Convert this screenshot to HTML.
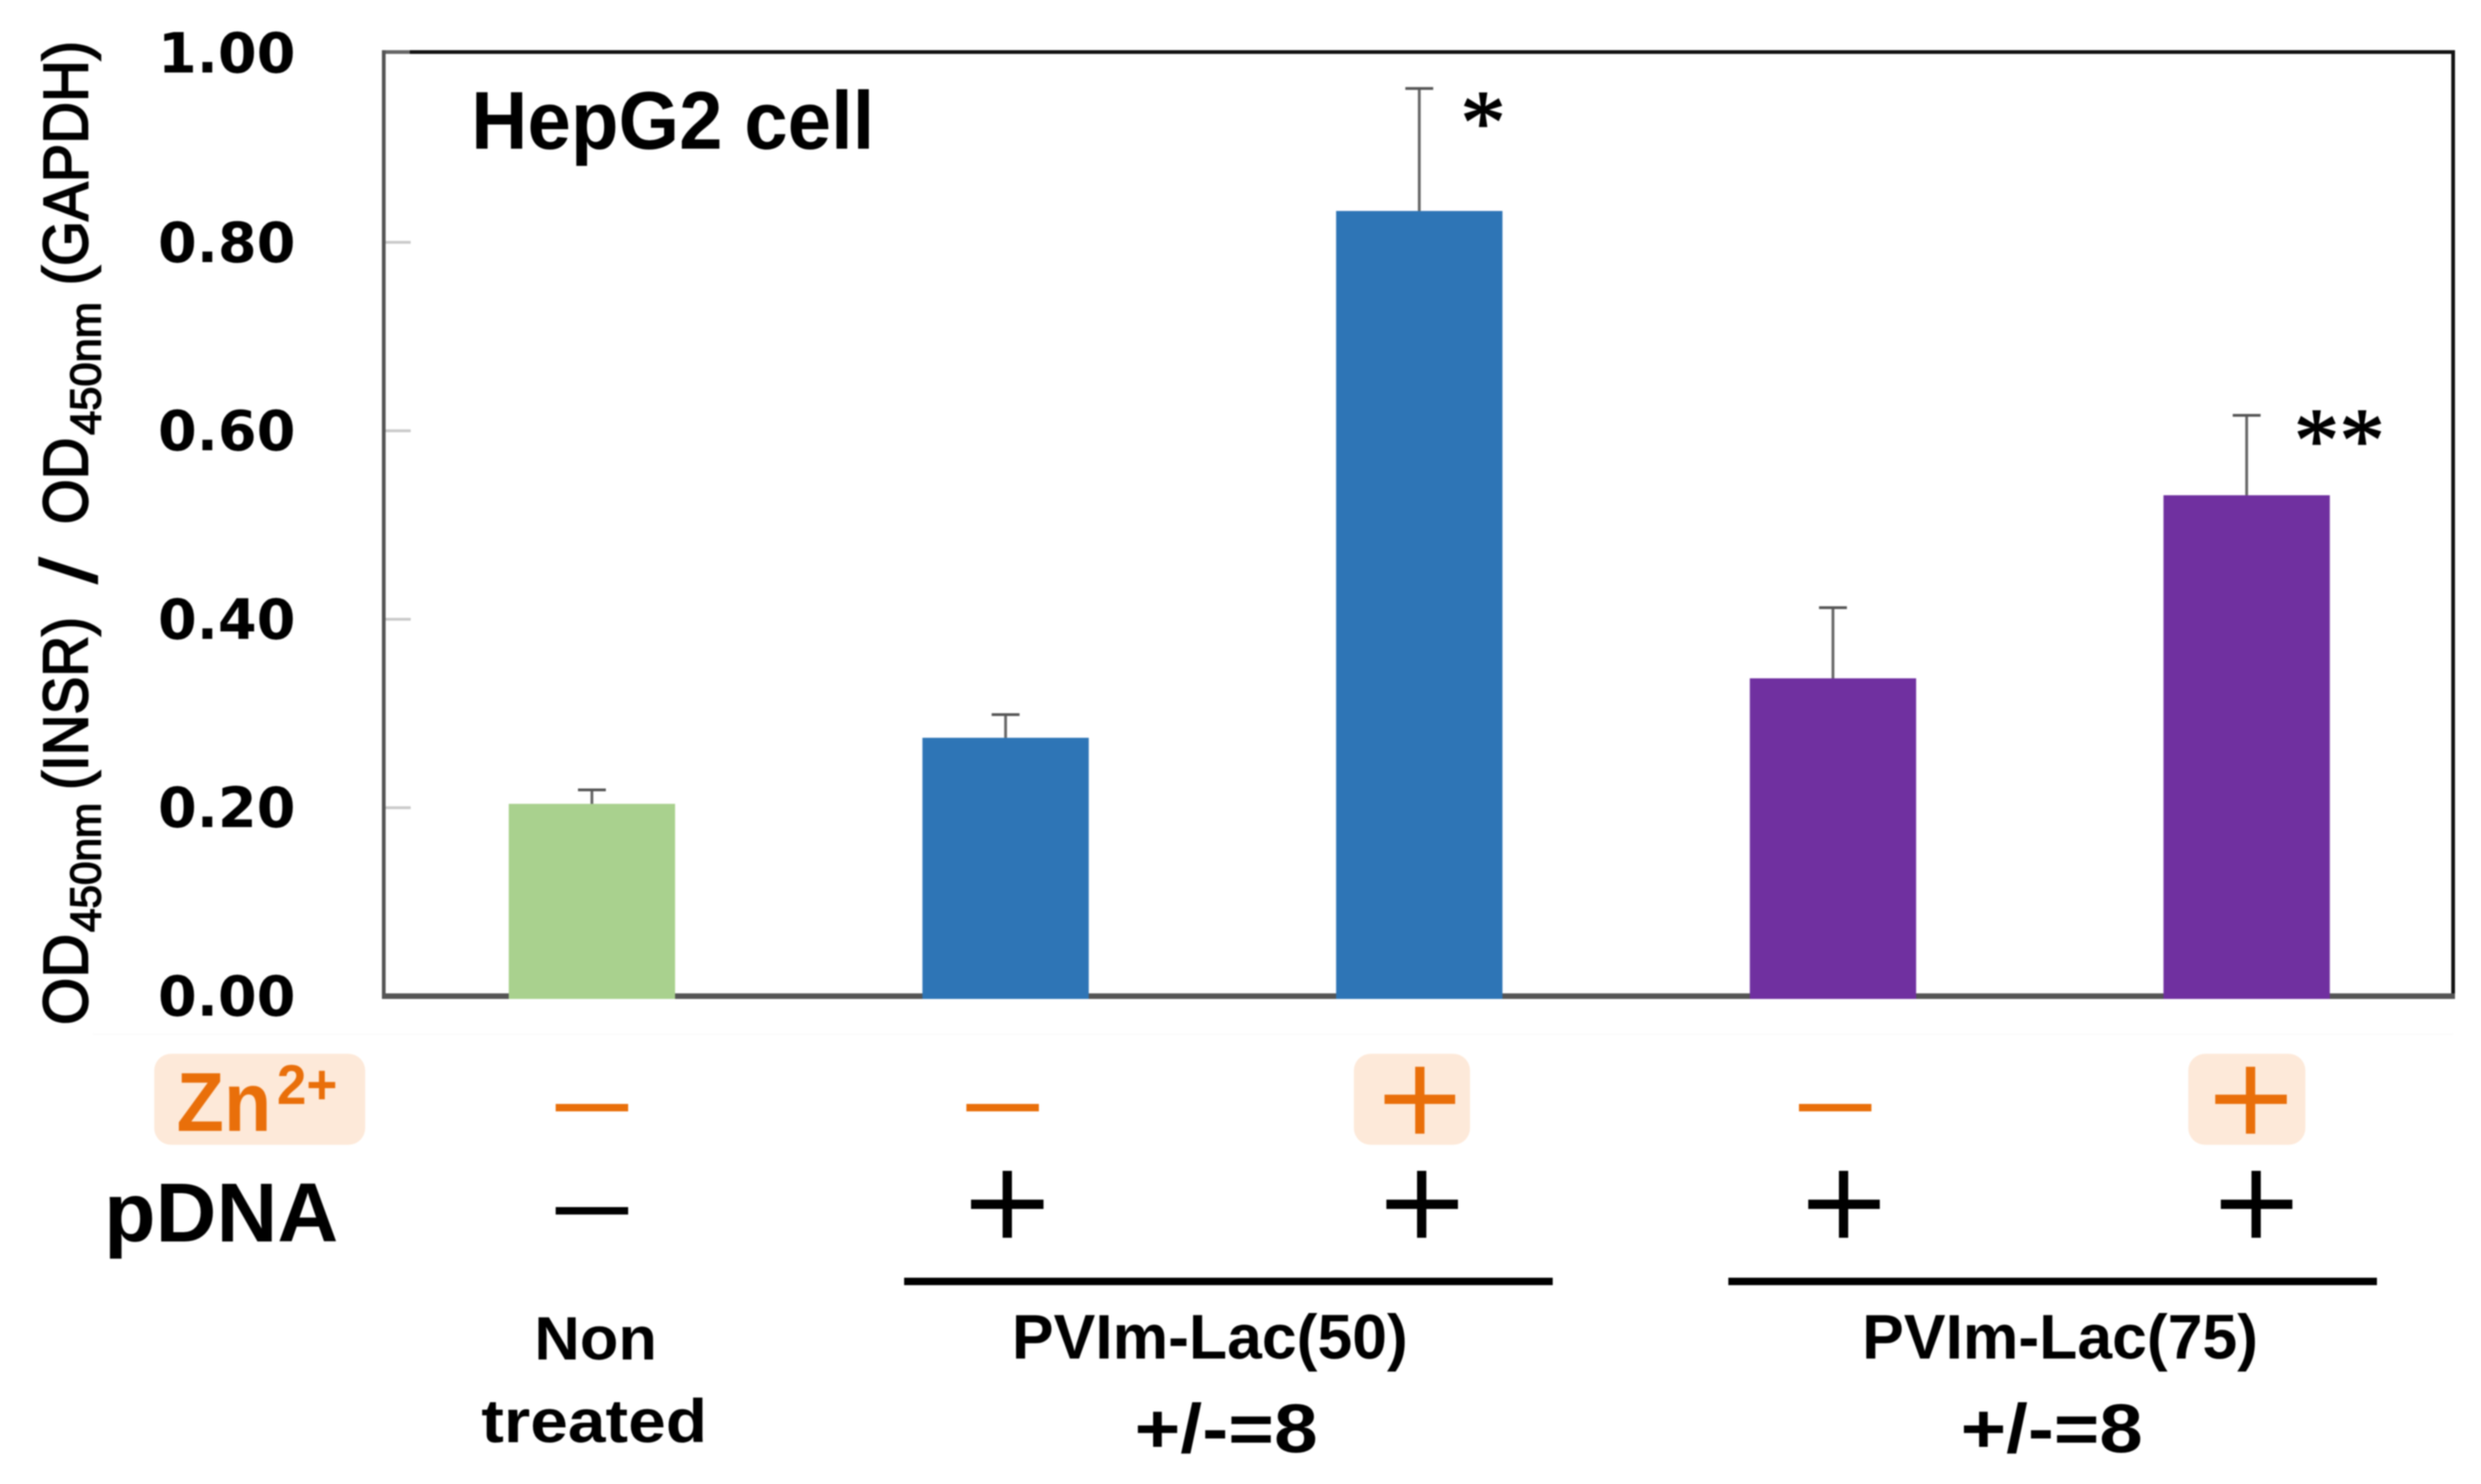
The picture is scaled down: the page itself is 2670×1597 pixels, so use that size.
<!DOCTYPE html>
<html lang="en">
<head>
<meta charset="utf-8">
<title>HepG2 cell INSR bar chart</title>
<style>
html,body{margin:0;padding:0;background:#fff;width:2670px;height:1597px;overflow:hidden}
svg{display:block;filter:blur(0.7px)}
text{font-family:"Liberation Sans",sans-serif;font-weight:700;fill:#000}
.dv{font-family:"DejaVu Sans",sans-serif}
.org{fill:#e96f0a}
.star{font-family:"Liberation Serif",serif;font-weight:400;stroke:#000;stroke-width:1.5}
.yt{font-weight:400;stroke:#000;stroke-width:2}
.ys{font-weight:400;stroke:#000;stroke-width:1.5}
</style>
</head>
<body>
<svg id="chart" xmlns="http://www.w3.org/2000/svg" width="2670" height="1597" viewBox="0 0 2670 1597">
  <rect x="0" y="0" width="2670" height="1597" fill="#fff"/>
  <rect x="100" y="1112" width="2540" height="2" fill="#fafafa"/>
  <g id="plot"></g>

  <text x="507" y="160" font-size="88" textLength="434" lengthAdjust="spacingAndGlyphs">HepG2 cell</text>

  <g transform="translate(94,1103) rotate(-90)">
    <text class="yt" x="0" y="0" font-size="68" textLength="98" lengthAdjust="spacingAndGlyphs">OD</text>
    <text class="ys" x="100" y="14" font-size="46" textLength="139" lengthAdjust="spacingAndGlyphs">450nm</text>
    <text class="yt" x="253" y="0" font-size="68" textLength="186" lengthAdjust="spacingAndGlyphs">(INSR)</text>
    <text class="ys" x="475" y="10" font-size="85" textLength="28" lengthAdjust="spacingAndGlyphs">/</text>
    <text class="yt" x="539" y="0" font-size="68" textLength="93" lengthAdjust="spacingAndGlyphs">OD</text>
    <text class="ys" x="635" y="14" font-size="46" textLength="143" lengthAdjust="spacingAndGlyphs">450nm</text>
    <text class="yt" x="796" y="0" font-size="68" textLength="263" lengthAdjust="spacingAndGlyphs">(GAPDH)</text>
  </g>

  <g>
    <text class="star" x="1596" y="164" font-size="97" text-anchor="middle">*</text>
    <text class="star" x="2493" y="506" font-size="97" text-anchor="middle">*</text>
    <text class="star" x="2542" y="506" font-size="97" text-anchor="middle">*</text>
  </g>

  <g>
    <rect x="166" y="1134" width="227" height="98" rx="18" fill="#fde9d9"/>
    <text class="org" x="190" y="1217" font-size="90" textLength="102" lengthAdjust="spacingAndGlyphs">Zn</text>
    <text class="org" x="298" y="1188" font-size="60" textLength="65" lengthAdjust="spacingAndGlyphs">2+</text>
    <rect x="598" y="1188" width="78" height="8" fill="#e96f0a"/>
    <rect x="1040" y="1188" width="78" height="8" fill="#e96f0a"/>
    <rect x="1457" y="1134" width="125" height="98" rx="18" fill="#fde9d9"/>
    <rect x="1490" y="1178" width="76" height="10" fill="#e96f0a"/>
    <rect x="1523" y="1148" width="10" height="72" fill="#e96f0a"/>
    <rect x="1936" y="1188" width="78" height="8" fill="#e96f0a"/>
    <rect x="2355" y="1134" width="126" height="98" rx="18" fill="#fde9d9"/>
    <rect x="2384" y="1178" width="77" height="10" fill="#e96f0a"/>
    <rect x="2417" y="1148" width="10" height="72" fill="#e96f0a"/>
  </g>

  <g>
    <text x="112" y="1336" font-size="90" textLength="252" lengthAdjust="spacingAndGlyphs">pDNA</text>
    <rect x="598" y="1299" width="78" height="8"/>
    <rect x="1045" y="1291" width="78" height="10"/>
    <rect x="1079" y="1260" width="10" height="72"/>
    <rect x="1492" y="1291" width="77" height="10"/>
    <rect x="1525" y="1260" width="10" height="72"/>
    <rect x="1946" y="1291" width="77" height="10"/>
    <rect x="1979" y="1260" width="10" height="72"/>
    <rect x="2390" y="1291" width="77" height="10"/>
    <rect x="2423" y="1260" width="10" height="72"/>
  </g>

  <rect x="973" y="1375" width="698" height="8"/>
  <rect x="1860" y="1375" width="698" height="8"/>

  <text x="575" y="1463" font-size="66" textLength="132" lengthAdjust="spacingAndGlyphs">Non</text>
  <text x="518" y="1552" font-size="66" textLength="243" lengthAdjust="spacingAndGlyphs">treated</text>
  <text x="1089" y="1462" font-size="68" textLength="426" lengthAdjust="spacingAndGlyphs">PVIm-Lac(50)</text>
  <text x="1221" y="1563" font-size="74" textLength="197" lengthAdjust="spacingAndGlyphs">+/-=8</text>
  <text x="2004" y="1462" font-size="68" textLength="426" lengthAdjust="spacingAndGlyphs">PVIm-Lac(75)</text>
  <text x="2110" y="1563" font-size="74" textLength="196" lengthAdjust="spacingAndGlyphs">+/-=8</text>
</svg>
<script>
const categories = ['non-treated', 'lac50-no-zinc', 'lac50-zinc', 'lac75-no-zinc', 'lac75-zinc'];
const barValues = [0.2041, 0.2742, 0.8333, 0.3373, 0.5316];
const barErrors = [0.0148, 0.0246, 0.130, 0.075, 0.0848];
const barColors = ['#a9d18e', '#2e75b6', '#2e75b6', '#7030a0', '#7030a0'];
const tickValues = [0, 0.2, 0.4, 0.6, 0.8, 1];
const tickLabels = ['0.00', '0.20', '0.40', '0.60', '0.80', '1.00'];

const NS = 'http://www.w3.org/2000/svg';
const plot = document.getElementById('plot');
const frameLeftX = 413, frameRightX = 2640, frameTopY = 56;
const plotBottom = 1072, unitHeight = 1014;
const barWidth = 179, capWidth = 30;
function xCenter(i) { return 637 + 445.2 * i; }
function yPos(v) { return plotBottom - v * unitHeight; }
function shape(tag, attrs) {
  const el = document.createElementNS(NS, tag);
  for (const k in attrs) el.setAttribute(k, attrs[k]);
  plot.appendChild(el);
  return el;
}

const frameTop = shape('rect', { x: frameLeftX, y: frameTopY - 2, width: frameRightX - frameLeftX, height: 4, fill: '#111' });


const frameTopTick = shape('rect', { x: frameLeftX, y: frameTopY - 2, width: 28, height: 4, fill: '#666' });


const frameRight = shape('rect', { x: frameRightX - 2, y: frameTopY - 2, width: 4, height: plotBottom - frameTopY + 4, fill: '#111' });


const frameLeft = shape('rect', { x: frameLeftX - 2, y: frameTopY - 2, width: 4, height: plotBottom - frameTopY + 4, fill: '#555' });


const frameBottom = shape('rect', { x: frameLeftX - 2, y: plotBottom - 3, width: frameRightX - frameLeftX + 4, height: 6, fill: '#555' });



tickValues.forEach(function (v, i) {
  if (v > 0 && v < 1) {
    const tick = shape('rect', { x: frameLeftX + 2, y: yPos(v) - 1.5, width: 27, height: 3, fill: '#c9c9c9' });
    
    
  }
  const labelY = v === 1 ? frameTopY + 22 : yPos(v) + 21;
  const label = shape('text', { x: 170, y: labelY, 'font-size': 60, textLength: 148, lengthAdjust: 'spacingAndGlyphs', class: 'dv' });
  label.textContent = tickLabels[i];
  
  
});

categories.forEach(function (name, i) {
  const cx = xCenter(i);
  const bar = shape('rect', { x: cx - barWidth / 2, y: yPos(barValues[i]), width: barWidth, height: yPos(0) - yPos(barValues[i]) + 3, fill: barColors[i] });
  
  
  const errTop = yPos(barValues[i] + barErrors[i]);
  const stem = shape('rect', { x: cx - 1.5, y: errTop, width: 3, height: yPos(barValues[i]) - errTop, fill: '#666' });
  
  
  const cap = shape('rect', { x: cx - capWidth / 2, y: errTop - 1.5, width: capWidth, height: 3, fill: '#555' });
  
  
});
</script>
</body>
</html>
